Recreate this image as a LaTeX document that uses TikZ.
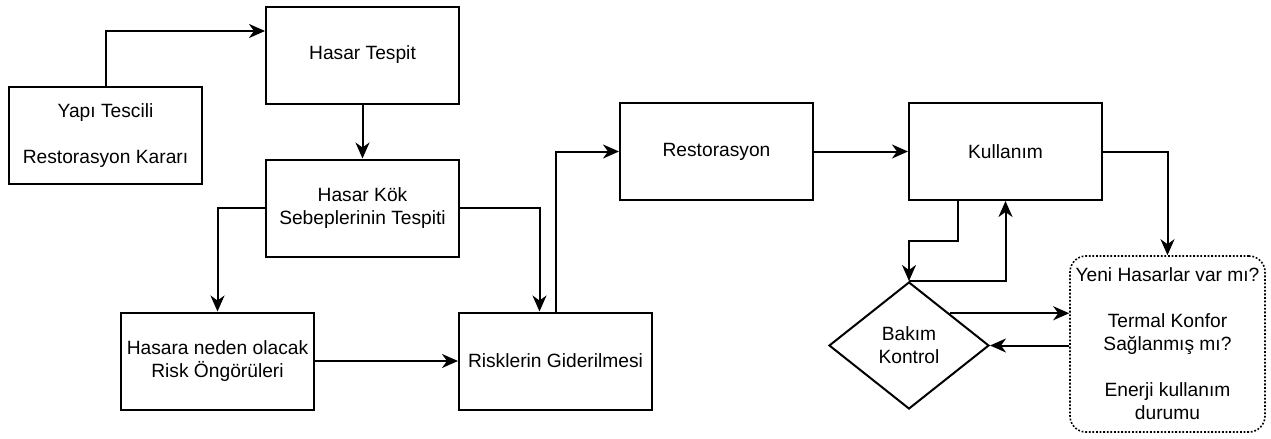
\documentclass[tikz,border=0pt]{standalone}
\usepackage{fontspec}
\setmainfont{Liberation Sans}
\usetikzlibrary{arrows.meta,positioning,shapes.geometric,calc}

\begin{document}
\begin{tikzpicture}[x=0.5pt, y=-0.5pt,
  every node/.style={font=\fontsize{9.6pt}{11.5pt}\selectfont, align=center},
  stage/.style={draw, line width=1pt, minimum width=96.5pt, minimum height=48.5pt, inner sep=1pt},
  flow/.style={-{Stealth[length=8pt, width=7pt, inset=2.5pt]}, line width=1pt}]
  \useasboundingbox (0,0) rectangle (1271,439);

  \node[stage] (yapi)   at (105.5, 135.5) {Yapı Tescili\\[11.5pt]Restorasyon Kararı};
  \node[stage] (tespit) at (362.5, 55)    {Hasar Tespit};
  \node[stage] (kok)    at (362.5, 208)   {Hasar Kök\\Sebeplerinin Tespiti};
  \node[stage] (ongoru) at (217.5, 361)   {Hasara neden olacak\\Risk Öngörüleri};
  \node[stage] (gider)  at (555.5, 361)   {Risklerin Giderilmesi};
  \node[stage] (rest)   at (716.5, 151.5) {Restorasyon};
  \node[stage] (kull)   at (1005.5, 151.5) {Kullanım};
  \node[draw, diamond, line width=1pt, minimum width=80pt, minimum height=63.5pt, inner sep=0pt]
    (bakim) at (909, 345.5) {Bakım\\Kontrol};
  \node[draw, rounded corners=8pt, line width=0.8pt, dash pattern=on 0.9pt off 0.9pt,
    minimum width=97.5pt, minimum height=88pt, inner xsep=0pt]
    (durum) at (1167.5, 344) {Yeni Hasarlar var mı?\\[11.5pt]Termal Konfor\\Sağlanmış mı?\\[11.5pt]Enerji kullanım\\durumu};

  \draw[flow] (yapi.north) |- ([yshift=12pt]tespit.west);
  \draw[flow] (tespit.south) -- (kok.north);
  \draw[flow] (kok.west) -| (ongoru.north);
  \draw[flow] (kok.east) -| ([xshift=-8pt]gider.north);
  \draw[flow] (ongoru.east) -- (gider.west);
  \draw[flow] (gider.north) |- (rest.west);
  \draw[flow] (rest.east) -- (kull.west);
  % loop between use and maintenance
  \draw[flow] ([xshift=-24pt]kull.south) -- ++(0,40) -| (bakim.north);
  \draw[flow] (bakim.north) -| (kull.south);
  \draw[flow] (kull.east) -| (durum.north);
  \draw[flow] (bakim.north east) -- (durum.west |- bakim.north east);
  \draw[flow] (durum.west |- bakim.east) -- (bakim.east);
\end{tikzpicture}
\end{document}
